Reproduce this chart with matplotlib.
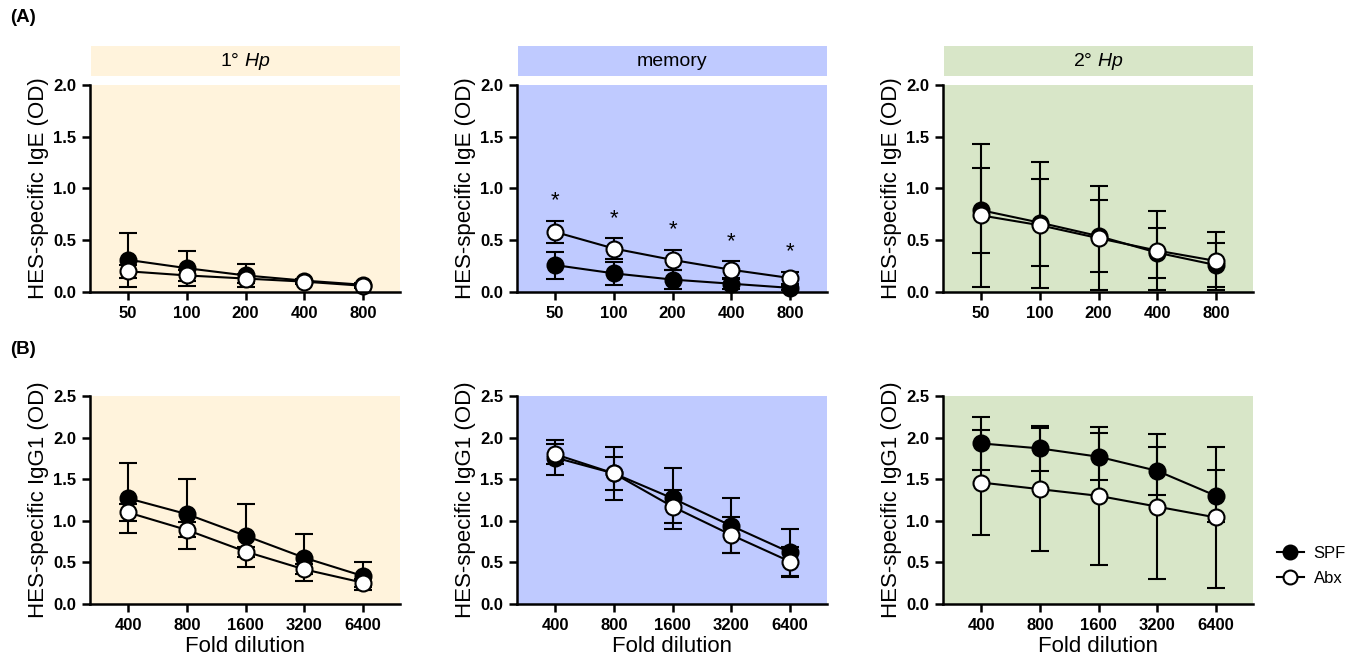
import numpy as np
import matplotlib
matplotlib.use("Agg")
import matplotlib.pyplot as plt
from matplotlib.lines import Line2D

plt.rcParams['font.family'] = ['Liberation Sans', 'DejaVu Sans']
plt.rcParams['mathtext.fontset'] = 'custom'
plt.rcParams['mathtext.rm'] = 'Liberation Sans'
plt.rcParams['mathtext.it'] = 'Liberation Sans:italic'

# data (mean +/- error)
ige_dil = ['50', '100', '200', '400', '800']
igg_dil = ['400', '800', '1600', '3200', '6400']

groups = ['1° $\\mathit{Hp}$', 'memory', '2° $\\mathit{Hp}$']
bg_colors = ['#fff3dc', '#bfcaff', '#d8e6c8']

# IgE (row A)
ige_spf = [[0.31, 0.23, 0.16, 0.11, 0.07],
           [0.26, 0.18, 0.12, 0.08, 0.04],
           [0.79, 0.67, 0.54, 0.38, 0.26]]
ige_spf_err = [[0.26, 0.17, 0.11, 0.02, 0.02],
               [0.13, 0.11, 0.09, 0.05, 0.02],
               [0.41, 0.42, 0.35, 0.24, 0.21]]
ige_abx = [[0.20, 0.16, 0.13, 0.10, 0.06],
           [0.58, 0.42, 0.31, 0.215, 0.135],
           [0.74, 0.645, 0.52, 0.40, 0.30]]
ige_abx_err = [[0.06, 0.05, 0.04, 0.02, 0.02],
               [0.11, 0.10, 0.10, 0.08, 0.06],
               [0.69, 0.61, 0.50, 0.38, 0.28]]
ige_stars = [[], [0, 1, 2, 3, 4], []]

# IgG1 (row B)
igg_spf = [[1.27, 1.08, 0.82, 0.556, 0.336],
           [1.76, 1.57, 1.27, 0.94, 0.62],
           [1.93, 1.87, 1.77, 1.60, 1.30]]
igg_spf_err = [[0.42, 0.42, 0.38, 0.28, 0.17],
               [0.21, 0.32, 0.37, 0.33, 0.28],
               [0.32, 0.27, 0.28, 0.29, 0.31]]
igg_abx = [[1.10, 0.89, 0.63, 0.416, 0.256],
           [1.80, 1.57, 1.17, 0.83, 0.51],
           [1.46, 1.38, 1.30, 1.17, 1.04]]
igg_abx_err = [[0.10, 0.09, 0.06, 0.06, 0.05],
               [0.12, 0.20, 0.20, 0.22, 0.18],
               [0.63, 0.74, 0.83, 0.87, 0.85]]

W, H = 1352, 665
fig = plt.figure(figsize=(W / 100, H / 100), dpi=100)

lefts = [90, 517, 943]
width = 310


def fr(x0, y_top, w, h):
    return [x0 / W, (H - y_top - h) / H, w / W, h / H]


def draw(ax, labels, spf, spf_err, abx, abx_err, ymax, yticks, ylabel):
    x = np.arange(len(labels))
    ax.errorbar(x, spf, yerr=spf_err, fmt='-o', color='black', mfc='black', mec='black',
                ms=11.5, mew=1.5, lw=1.5, elinewidth=1.5, capsize=6.5, capthick=1.5,
                zorder=3, clip_on=False)
    ax.errorbar(x, abx, yerr=abx_err, fmt='-o', color='black', mfc='white', mec='black',
                ms=11.5, mew=1.5, lw=1.5, elinewidth=1.5, capsize=6.5, capthick=1.5,
                zorder=4, clip_on=False)
    ax.set_xlim(-0.65, 4.63)
    ax.set_ylim(0, ymax)
    ax.set_xticks(x)
    ax.set_xticklabels(labels, fontweight='bold', fontsize=12)
    ax.set_yticks(yticks)
    ax.set_yticklabels([f'{t:.1f}' for t in yticks], fontweight='bold', fontsize=12)
    ax.set_ylabel(ylabel, fontsize=16, labelpad=3)
    for s in ['top', 'right']:
        ax.spines[s].set_visible(False)
    for s in ['left', 'bottom']:
        ax.spines[s].set_linewidth(1.8)
        ax.spines[s].set_zorder(10)
    ax.tick_params(width=1.8, length=6, direction='out', pad=4)


for i in range(3):
    # row A
    ax = fig.add_axes(fr(lefts[i], 85, width, 207))
    ax.set_facecolor(bg_colors[i])
    draw(ax, ige_dil, ige_spf[i], ige_spf_err[i], ige_abx[i], ige_abx_err[i],
         2.0, [0.0, 0.5, 1.0, 1.5, 2.0], 'HES-specific IgE (OD)')
    for j in ige_stars[i]:
        ax.text(j, ige_abx[i][j] + ige_abx_err[i][j] + 0.09, '*', ha='center',
                va='bottom', fontsize=16)

    # header strip
    sx = fig.add_axes(fr(lefts[i] + 1, 46, width - 1, 30))
    sx.set_facecolor(bg_colors[i])
    sx.set_xticks([])
    sx.set_yticks([])
    for s in sx.spines.values():
        s.set_visible(False)
    sx.text(0.5, 0.5, groups[i], ha='center', va='center', fontsize=14,
            transform=sx.transAxes)

    # row B
    ax = fig.add_axes(fr(lefts[i], 396, width, 208))
    ax.set_facecolor(bg_colors[i])
    draw(ax, igg_dil, igg_spf[i], igg_spf_err[i], igg_abx[i], igg_abx_err[i],
         2.5, [0.0, 0.5, 1.0, 1.5, 2.0, 2.5], 'HES-specific IgG1 (OD)')
    ax.set_xlabel('Fold dilution', fontsize=16, labelpad=2)

fig.text(10 / W, 1 - 18 / H, '(A)', fontsize=13.5, fontweight='bold', va='center')
fig.text(10 / W, 1 - 349 / H, '(B)', fontsize=13.5, fontweight='bold', va='center')

handles = [Line2D([], [], color='black', marker='o', mfc='black', mec='black', ms=10, mew=1.5, lw=1.5),
           Line2D([], [], color='black', marker='o', mfc='white', mec='black', ms=10, mew=1.5, lw=1.5)]
fig.legend(handles, ['SPF', 'Abx'], loc='center left', bbox_to_anchor=(1262 / W, 1 - 566 / H),
           frameon=False, fontsize=12, handlelength=1.6, labelspacing=0.6, handletextpad=0.6)

fig.savefig('out.png', dpi=100)
